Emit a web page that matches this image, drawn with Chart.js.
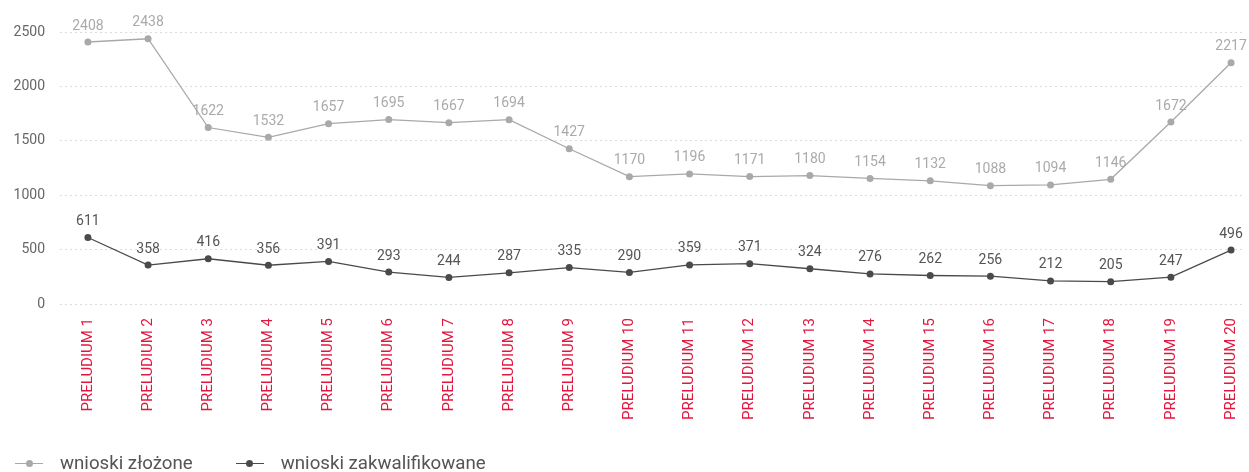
<!DOCTYPE html>
<html>
<head>
<meta charset="utf-8">
<script src="https://cdn.jsdelivr.net/npm/chart.js@4"></script>
<style>
  html, body { margin: 0; padding: 0; background: #fff; }
  #wrap { position: relative; width: 1249px; height: 472px; }
  #legend { position: absolute; left: 15px; top: 452px; display: flex; align-items: center;
            font-family: Roboto, sans-serif; font-size: 18.7px; color: #555; }
  .item { display: flex; align-items: center; margin-right: 43px; }
  .mark { position: relative; width: 28px; height: 8px; margin-right: 17px; }
  .mark i { position: absolute; left: 0; right: 0; top: 3.5px; height: 1px; }
  .mark b { position: absolute; left: 10.5px; top: 0.5px; width: 7px; height: 7px; border-radius: 50%; }
</style>
</head>
<body>
<div id="wrap">
  <canvas id="lineChart" width="1249" height="472"></canvas>
  <div id="legend"></div>
</div>
<script>
const categories = ['PRELUDIUM 1', 'PRELUDIUM 2', 'PRELUDIUM 3', 'PRELUDIUM 4', 'PRELUDIUM 5',
    'PRELUDIUM 6', 'PRELUDIUM 7', 'PRELUDIUM 8', 'PRELUDIUM 9', 'PRELUDIUM 10',
    'PRELUDIUM 11', 'PRELUDIUM 12', 'PRELUDIUM 13', 'PRELUDIUM 14', 'PRELUDIUM 15',
    'PRELUDIUM 16', 'PRELUDIUM 17', 'PRELUDIUM 18', 'PRELUDIUM 19', 'PRELUDIUM 20'];
const zlozone = [2408, 2438, 1622, 1532, 1657, 1695, 1667, 1694, 1427, 1170,
    1196, 1171, 1180, 1154, 1132, 1088, 1094, 1146, 1672, 2217];
const zakwalifikowane = [611, 358, 416, 356, 391, 293, 244, 287, 335, 290,
    359, 371, 324, 276, 262, 256, 212, 205, 247, 496];
const yTicks = [0, 500, 1000, 1500, 2000, 2500];

const seriesNames = ['wnioski złożone', 'wnioski zakwalifikowane'];
const lineColors = ['#a9a9a9', '#4a4a4a'];
const labelColors = ['#aaaaaa', '#555555'];

// data labels above points
const valueLabels = {
    id: 'valueLabels',
    afterDatasetsDraw(chart) {
        const ctx = chart.ctx;
        ctx.save();
        ctx.font = '14px Roboto, sans-serif';
        ctx.textAlign = 'center';
        ctx.textBaseline = 'bottom';
        chart.data.datasets.forEach((ds, i) => {
            ctx.fillStyle = labelColors[i];
            chart.getDatasetMeta(i).data.forEach((pt, j) => {
                ctx.fillText(ds.data[j].y, pt.x, pt.y - 9);
            });
        });
        ctx.restore();
    }
};

const ctx1 = document.getElementById('lineChart').getContext('2d');
new Chart(ctx1, {
    type: 'line',
    data: {
        datasets: [zlozone, zakwalifikowane].map((vals, i) => ({
            label: seriesNames[i],
            data: vals.map((v, j) => ({ x: j, y: v })),
            borderColor: lineColors[i],
            backgroundColor: lineColors[i],
            pointBackgroundColor: lineColors[i],
            pointBorderWidth: 0,
            pointRadius: 3.5,
            borderWidth: 1.3,
            tension: 0,
            fill: false
        }))
    },
    options: {
        responsive: false,
        animation: false,
        layout: { padding: { top: 32, right: 0, left: 0, bottom: 0 } },
        plugins: { legend: { display: false }, tooltip: { enabled: false } },
        scales: {
            x: {
                type: 'linear',
                min: -0.464,
                max: 19.232,
                grid: { display: false, drawTicks: false },
                border: { display: false },
                afterBuildTicks: s => { s.ticks = categories.map((c, i) => ({ value: i })); },
                afterFit: s => { s.height = 168; s.paddingLeft = 0; s.paddingRight = 0; },
                ticks: {
                    autoSkip: false,
                    minRotation: 90,
                    maxRotation: 90,
                    padding: 14,
                    color: '#e3173e',
                    font: { family: 'Roboto, sans-serif', size: 15 },
                    callback: v => categories[v]
                }
            },
            y: {
                min: 0,
                max: 2500,
                afterBuildTicks: s => { s.ticks = yTicks.map(v => ({ value: v })); },
                afterFit: s => { s.width = 60; },
                grid: { color: '#dcdcdc', lineWidth: 1, drawTicks: false },
                border: { display: false, dash: [2, 3] },
                ticks: {
                    padding: 15,
                    color: '#666',
                    font: { family: 'Roboto, sans-serif', size: 14 },
                    callback: v => String(v)
                }
            }
        }
    },
    plugins: [valueLabels]
});

// legend
const legend = document.getElementById('legend');
seriesNames.forEach((name, i) => {
    const item = document.createElement('div');
    item.className = 'item';
    item.innerHTML = '<span class="mark"><i style="background:' + lineColors[i] + '"></i><b style="background:' +
        lineColors[i] + '"></b></span><span>' + name + '</span>';
    legend.appendChild(item);
});
</script>
</body>
</html>
